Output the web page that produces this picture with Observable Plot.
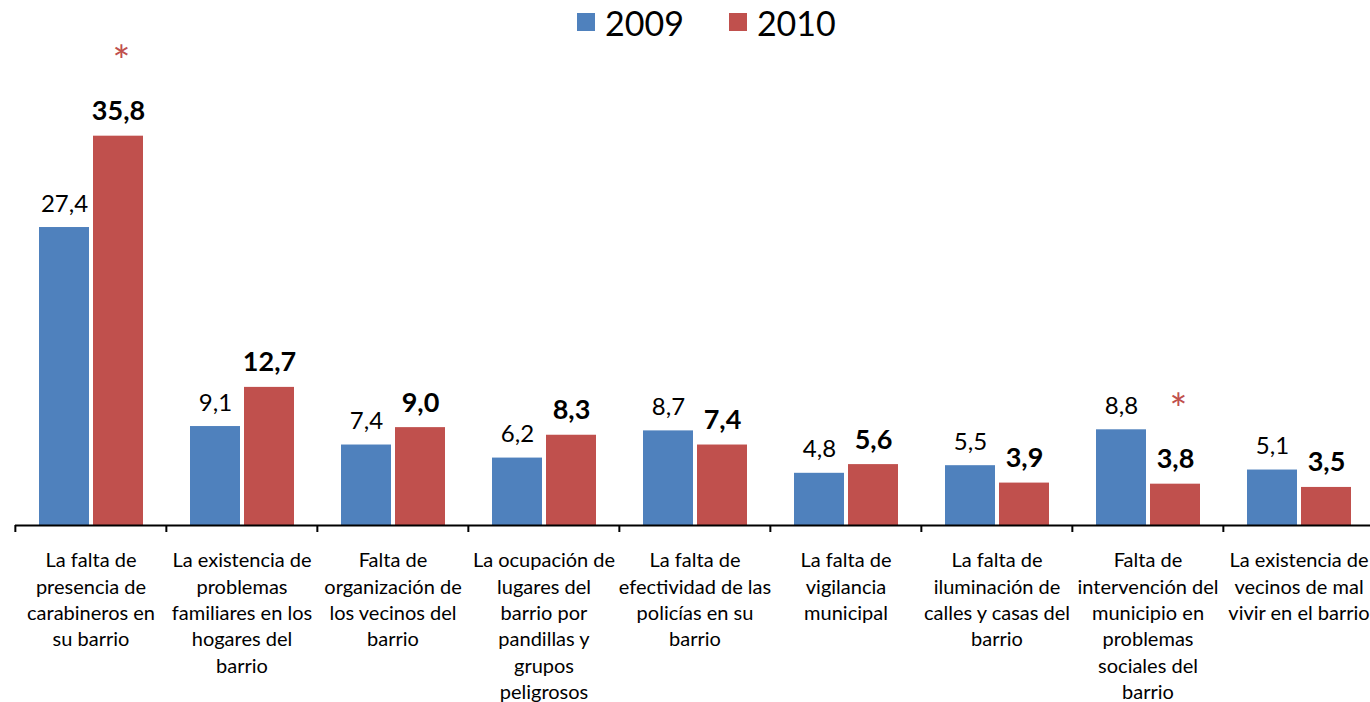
<!DOCTYPE html>
<html><head><meta charset="utf-8">
<script src="https://cdn.jsdelivr.net/npm/d3@7"></script>
<script src="https://cdn.jsdelivr.net/npm/@observablehq/plot@0.6"></script>
<style>
body{margin:0;background:#fff;font-family:Lato, "Open Sans", sans-serif;}
#wrap{position:relative;width:1370px;height:702px;overflow:hidden;background:#fff;}
#legend{position:absolute;left:577px;top:0;height:44px;display:flex;align-items:center;font-size:34px;color:#000;z-index:2;}
#legend .item{display:flex;align-items:center;margin-right:45px;}
#legend .sw{width:18px;height:18px;display:inline-block;margin-right:10px;}
#chart{position:absolute;left:0;top:0;}
</style></head>
<body>
<div id="wrap">
  <div id="legend"></div>
  <div id="chart"></div>
</div>
<script>
const categories = ["c1","c2","c3","c4","c5","c6","c7","c8","c9"];
const categoryLabels = [
  "La falta de\npresencia de\ncarabineros en\nsu barrio",
  "La existencia de\nproblemas\nfamiliares en los\nhogares del\nbarrio",
  "Falta de\norganización de\nlos vecinos del\nbarrio",
  "La ocupación de\nlugares del\nbarrio por\npandillas y\ngrupos\npeligrosos",
  "La falta de\nefectividad de las\npolicías en su\nbarrio",
  "La falta de\nvigilancia\nmunicipal",
  "La falta de\niluminación de\ncalles y casas del\nbarrio",
  "Falta de\nintervención del\nmunicipio en\nproblemas\nsociales del\nbarrio",
  "La existencia de\nvecinos de mal\nvivir en el barrio"
];
const series = ["2009", "2010"];
const colors = ["#4F81BD", "#C0504D"];
const values2009 = [27.4, 9.1, 7.4, 6.2, 8.7, 4.8, 5.5, 8.8, 5.1];
const values2010 = [35.8, 12.7, 9.0, 8.3, 7.4, 5.6, 3.9, 3.8, 3.5];
const significant2010 = [true, false, false, false, false, false, false, true, false];

const rows = categories.flatMap((c, i) => [
  {cat: c, year: "2009", value: values2009[i], sig: false},
  {cat: c, year: "2010", value: values2010[i], sig: significant2010[i]}
]);
const labelRows = categories.map((c, i) => ({cat: c, label: categoryLabels[i]}));
const fmt = v => v.toFixed(1).replace(".", ",");

const legend = document.getElementById("legend");
series.forEach((s, i) => {
  const it = document.createElement("div");
  it.className = "item";
  it.innerHTML = `<span class="sw" style="background:${colors[i]}"></span><span>${s}</span>`;
  legend.appendChild(it);
});

const chart = Plot.plot({
  width: 1370,
  height: 702,
  marginTop: 90,
  marginBottom: 177,
  marginLeft: 0,
  marginRight: 0,
  style: {fontFamily: "Lato, 'Open Sans', sans-serif", background: "transparent", color: "#000"},
  fx: {domain: categories, range: [14, 1375.7], padding: 0, axis: null},
  x: {domain: series, range: [23.2, 129.2], paddingInner: 0.065, paddingOuter: 0, axis: null},
  y: {domain: [0, 40], range: [525, 90], axis: null},
  color: {domain: series, range: colors},
  marks: [
    Plot.barY(rows, {fx: "cat", x: "year", y: "value", fill: "year"}),
    Plot.ruleY([0], {stroke: "#000", strokeWidth: 2}),
    Plot.axisFx({anchor: "bottom", tickSize: 7, tickFormat: () => "", label: null, dx: -75.65, stroke: "#000", strokeWidth: 2}),
    Plot.text(rows.filter(d => d.year === "2009"), {fx: "cat", x: "year", y: "value", text: d => fmt(d.value), dy: -16, lineAnchor: "bottom", fontSize: 24, fill: "#000"}),
    Plot.text(rows.filter(d => d.year === "2010"), {fx: "cat", x: "year", y: "value", text: d => fmt(d.value), dy: -16, lineAnchor: "bottom", fontSize: 27, fontWeight: "bold", fill: "#000"}),
    Plot.text(rows.filter(d => d.sig), {fx: "cat", x: "year", y: "value", text: () => "*", dy: -60, dx: 3, lineAnchor: "bottom", fontSize: 42, fill: "#C0504D"}),
    Plot.text(labelRows, {fx: "cat", text: "label", frameAnchor: "bottom", lineAnchor: "top", dy: 23, fontSize: 20, lineHeight: 1.32, fill: "#000"})
  ]
});
document.getElementById("chart").appendChild(chart);
</script>
</body></html>
